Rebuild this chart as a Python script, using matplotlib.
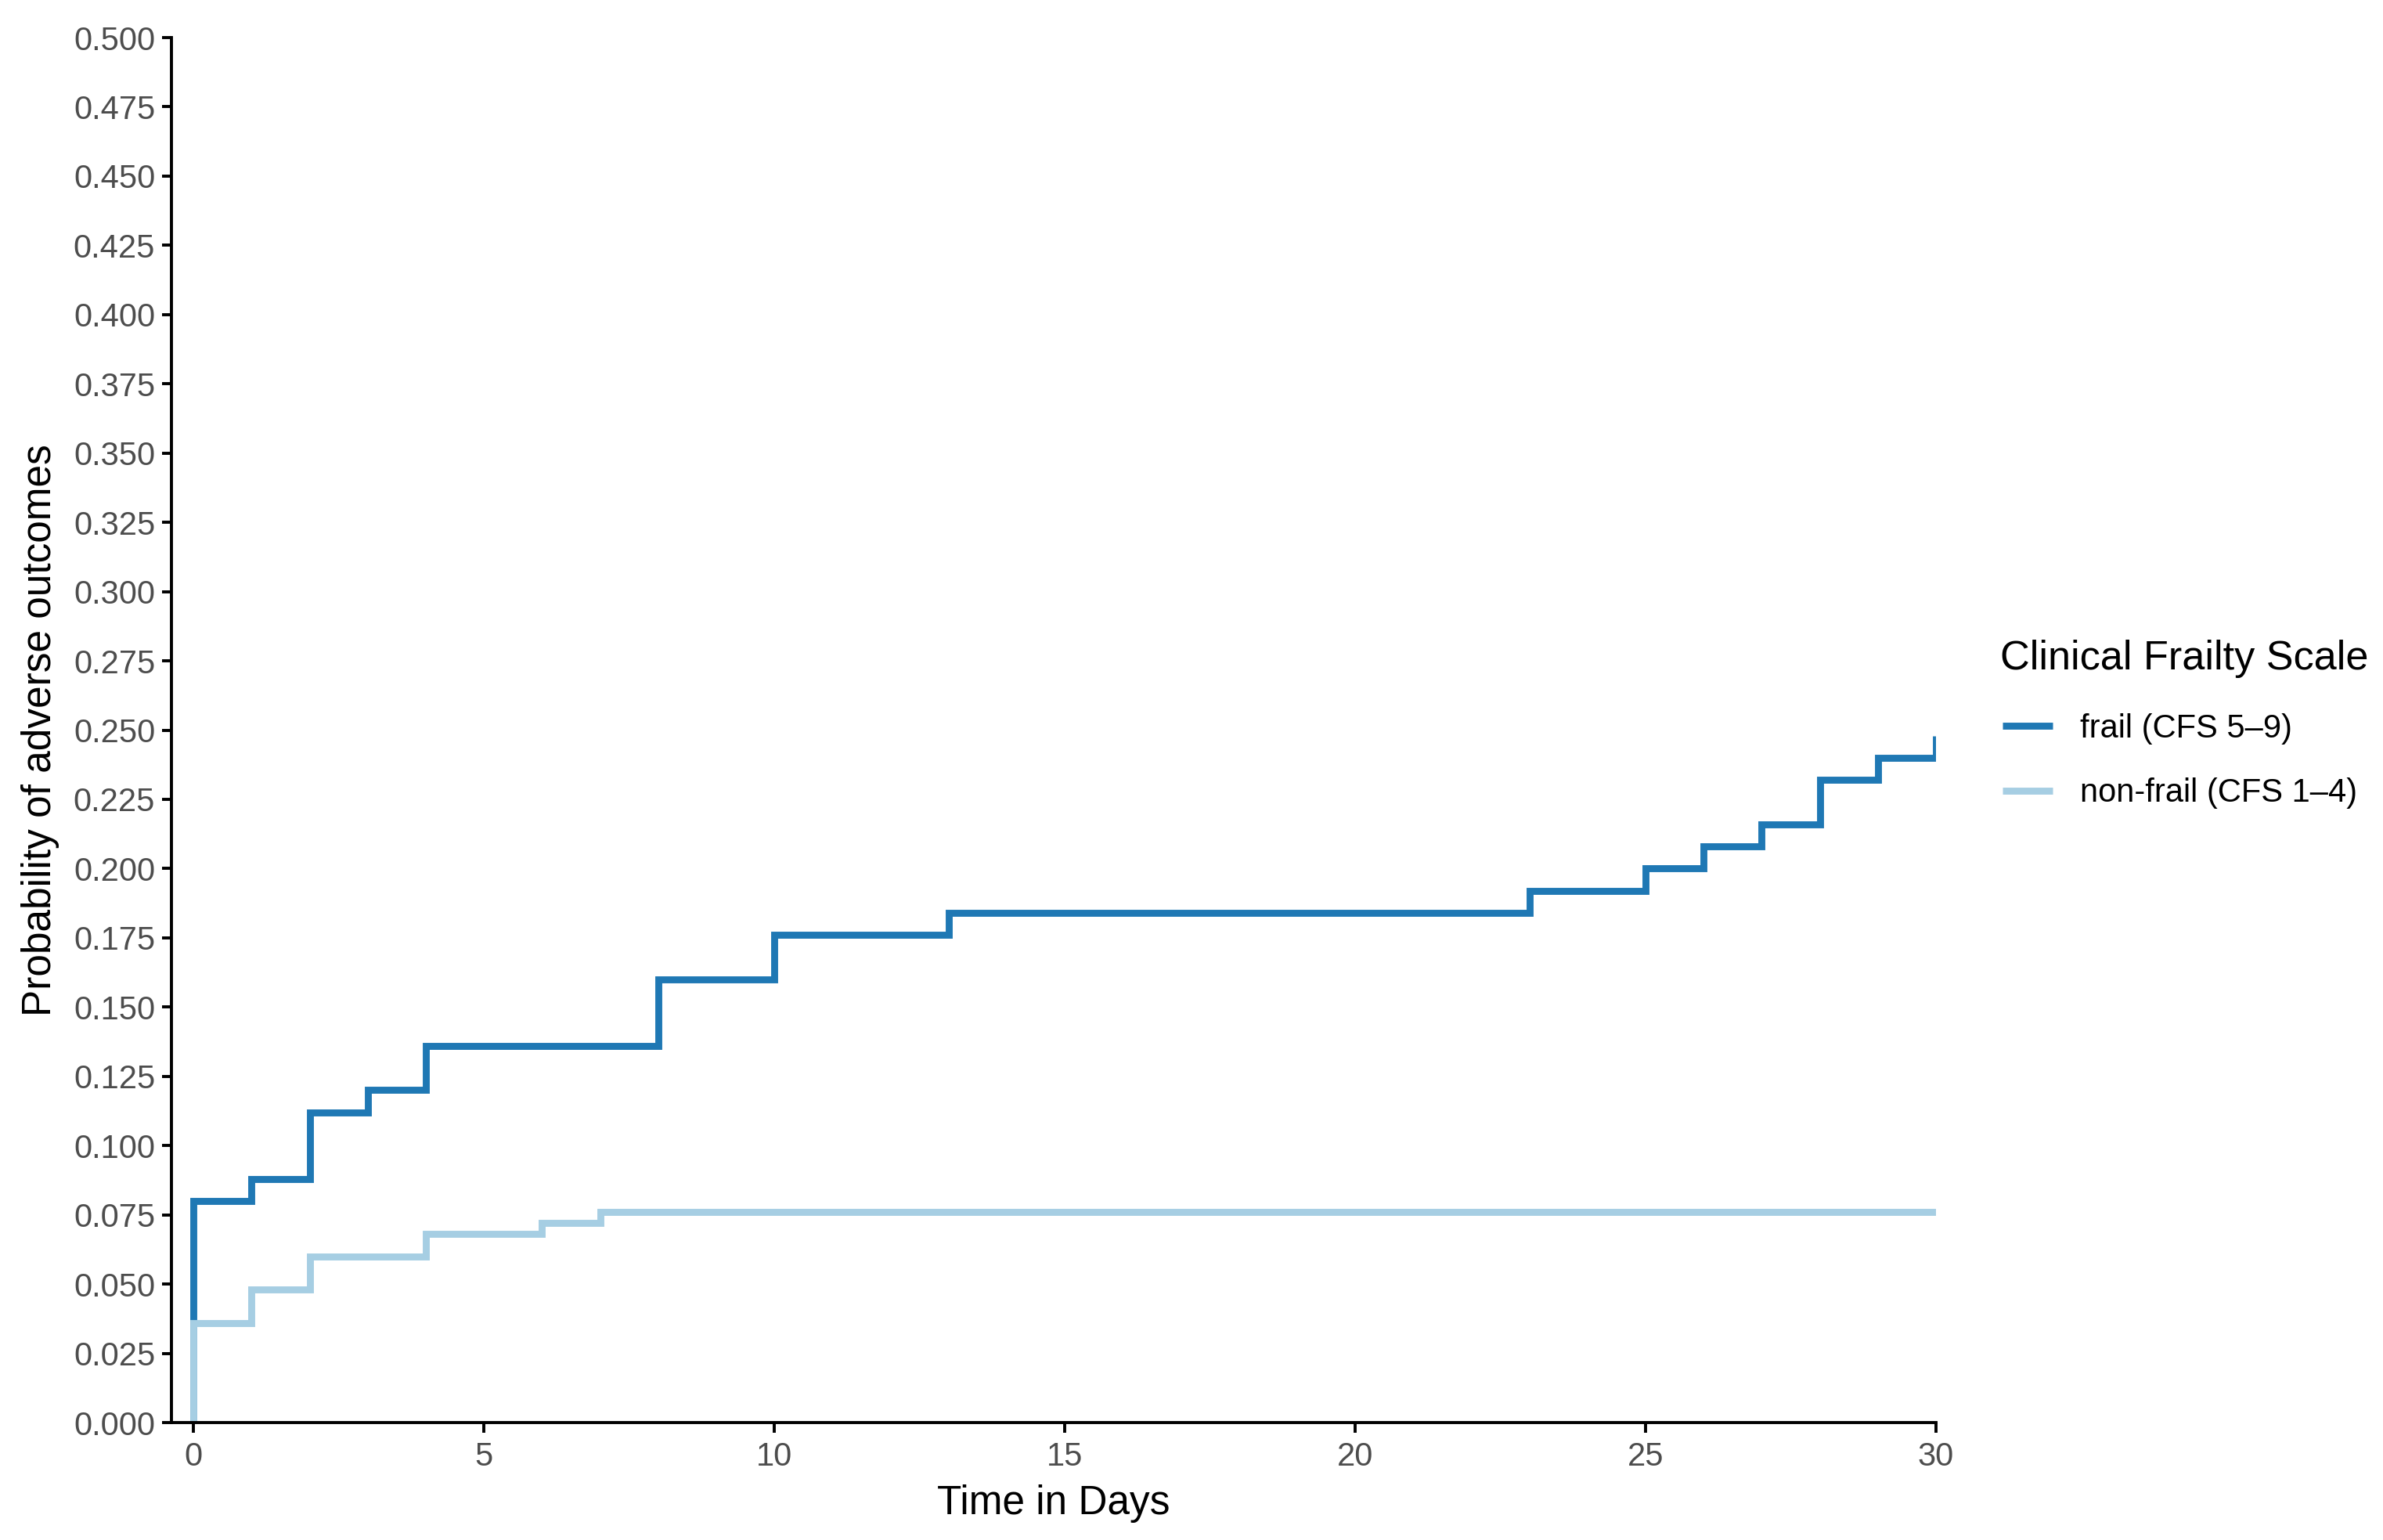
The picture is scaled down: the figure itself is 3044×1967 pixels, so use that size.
import matplotlib
matplotlib.use("Agg")
import matplotlib.pyplot as plt
import numpy as np

plt.rcParams['font.family'] = ['Liberation Sans', 'DejaVu Sans']

# Data
frail_times = [0, 0, 1, 2, 3, 4, 8, 10, 13, 23, 25, 26, 27, 28, 29, 30]
frail_probs = [0.0, 0.080, 0.088, 0.112, 0.120, 0.136, 0.160, 0.176, 0.184,
               0.192, 0.200, 0.208, 0.216, 0.232, 0.240, 0.248]
nonfrail_times = [0, 0, 1, 2, 4, 6, 7, 30]
nonfrail_probs = [0.0, 0.036, 0.048, 0.060, 0.068, 0.072, 0.076, 0.076]

series_labels = ["frail (CFS 5\u20139)", "non-frail (CFS 1\u20134)"]
series_colors = ["#1F78B4", "#A6CEE3"]
legend_title = "Clinical Frailty Scale"
x_ticks = [0, 5, 10, 15, 20, 25, 30]
y_ticks = [i * 0.025 for i in range(21)]

W, H, DPI = 3044, 1967, 200
fig = plt.figure(figsize=(W / DPI, H / DPI), dpi=DPI)
ax = fig.add_axes([219 / W, 1 - 1817 / H, (2473 - 219) / W, (1817 - 48) / H])

lw = 3.2
ax.step(frail_times, frail_probs, where='post', color=series_colors[0], lw=lw,
        solid_capstyle='butt', solid_joinstyle='miter', label=series_labels[0])
ax.step(nonfrail_times, nonfrail_probs, where='post', color=series_colors[1], lw=lw,
        solid_capstyle='butt', solid_joinstyle='miter', label=series_labels[1])

ax.set_xlim(-0.38, 30)
ax.set_ylim(0, 0.5)
ax.set_xticks(x_ticks)
ax.set_yticks(y_ticks)
ax.set_yticklabels([f"{v:.3f}" for v in y_ticks])
ax.set_xticklabels([str(v) for v in x_ticks])

for s in ['top', 'right']:
    ax.spines[s].set_visible(False)
for s in ['left', 'bottom']:
    ax.spines[s].set_linewidth(1.4)
    ax.spines[s].set_color('black')
    ax.spines[s].set_capstyle('projecting')

ax.tick_params(axis='both', length=4.5, width=1.4, color='black',
               labelsize=15, labelcolor='#4D4D4D', pad=3)
ax.tick_params(axis='x', pad=4)

ax.set_xlabel("Time in Days", fontsize=18.5, color='black', labelpad=5.5)
ax.set_ylabel("Probability of adverse outcomes", fontsize=18.5, color='black', labelpad=6.5)

fig.text(2555 / W, 1 - 841 / H, legend_title, fontsize=18.8, color='black',
         ha='left', va='center')
leg = fig.legend(loc='center left', bbox_to_anchor=(2558 / W, 1 - 972 / H),
                 frameon=False, fontsize=15, handlelength=1.54, handletextpad=0.84,
                 labelspacing=1.02, borderpad=0, borderaxespad=0)

fig.savefig("out.png", dpi=DPI, facecolor='white')
